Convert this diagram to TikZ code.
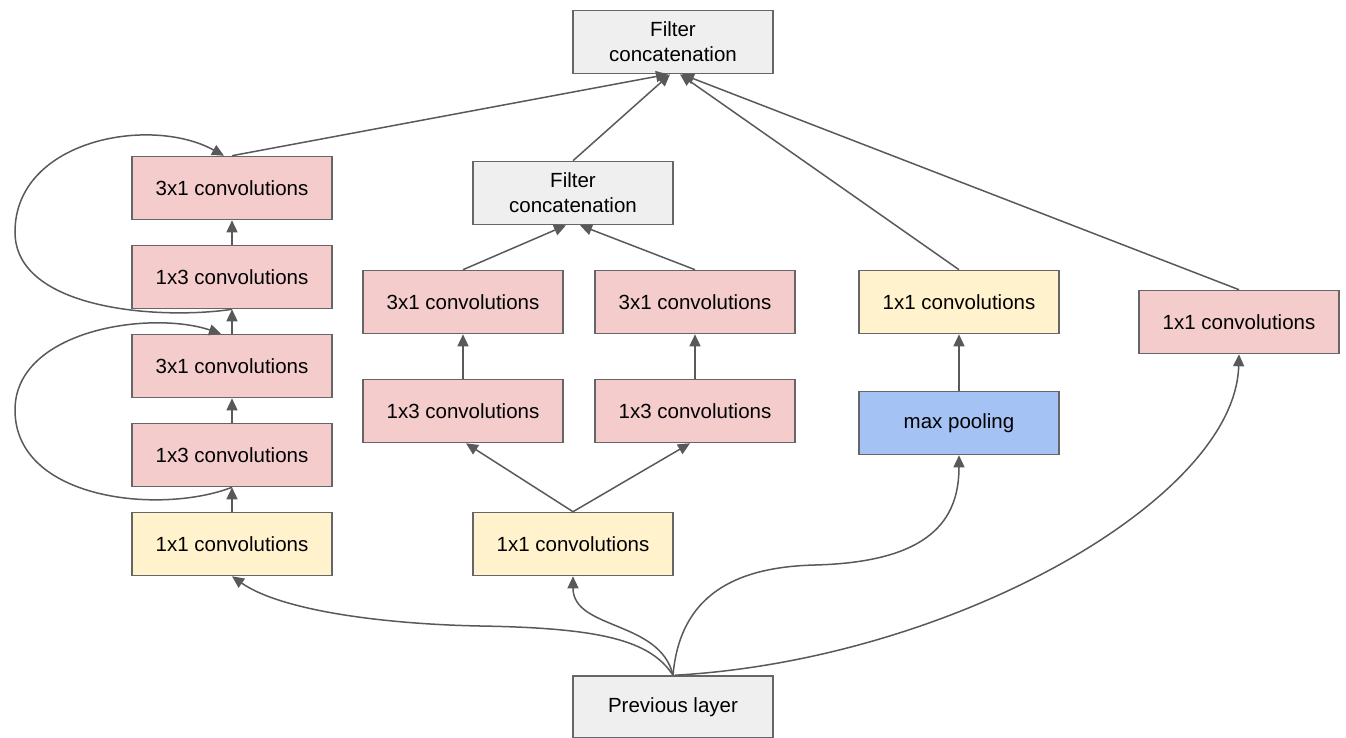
\documentclass[tikz,border=0pt]{standalone}
\usepackage{fontspec}
\setmainfont{Liberation Sans}
\usetikzlibrary{arrows.meta}
\definecolor{pinkfill}{HTML}{F4CCCC}
\definecolor{yellowfill}{HTML}{FFF2CC}
\definecolor{bluefill}{HTML}{A4C2F4}
\definecolor{grayfill}{HTML}{EFEFEF}
\definecolor{edge}{HTML}{666666}
\definecolor{wire}{HTML}{595959}
\tikzset{
  block/.style={draw=edge, line width=1.6pt, minimum width=200pt, minimum height=63pt,
    inner sep=0pt, align=center, font=\fontsize{20.5}{25}\selectfont},
  pinkbox/.style={block, fill=pinkfill},
  yellowbox/.style={block, fill=yellowfill},
  bluebox/.style={block, fill=bluefill},
  graybox/.style={block, fill=grayfill},
  arr/.style={draw=wire, line width=1.5pt, -{Triangle[width=11pt,length=12pt]}},
}
\begin{document}
\begin{tikzpicture}[x=1pt,y=-1pt]
\useasboundingbox (0,0) rectangle (1346,738);

% output concatenation and input layer
\node[graybox] (top)  at (673,42)  {Filter\\concatenation};
\node[graybox, minimum height=62pt] (prev) at (673,707) {Previous layer};

% left branch: stacked asymmetric convolutions
\node[pinkbox]   (l1) at (232,188) {3x1 convolutions};
\node[pinkbox]   (l2) at (232,277) {1x3 convolutions};
\node[pinkbox]   (l3) at (232,366) {3x1 convolutions};
\node[pinkbox]   (l4) at (232,455) {1x3 convolutions};
\node[yellowbox] (l5) at (232,544) {1x1 convolutions};

% middle branch: split into two parallel paths
\node[graybox]   (mcat) at (573,193) {Filter\\concatenation};
\node[pinkbox]   (ma1)  at (463,302) {3x1 convolutions};
\node[pinkbox]   (mb1)  at (695,302) {3x1 convolutions};
\node[pinkbox]   (ma2)  at (463,411) {1x3 convolutions};
\node[pinkbox]   (mb2)  at (695,411) {1x3 convolutions};
\node[yellowbox] (m1)   at (573,544) {1x1 convolutions};

% pooling branch
\node[yellowbox] (p1) at (959,302) {1x1 convolutions};
\node[bluebox]   (p2) at (959,423) {max pooling};

% single 1x1 branch
\node[pinkbox] (r1) at (1239,322) {1x1 convolutions};

% left branch chain
\draw[arr] (l5.north) -- (l4.south);
\draw[arr] (l4.north) -- (l3.south);
\draw[arr] (l3.north) -- (l2.south);
\draw[arr] (l2.north) -- (l1.south);

% skip loops around the left stack
\coordinate (loopa) at (15,232);
\coordinate (loopb) at (15,410);
\draw[arr] (l2.south) .. controls (160,320) and (15,310) .. (loopa)
  .. controls (15,140) and (150,115) .. ([xshift=-8pt]l1.north);
\draw[arr] (l4.south) .. controls (160,515) and (15,500) .. (loopb)
  .. controls (15,330) and (150,310) .. ([xshift=-11pt]l3.north);

% middle branch
\draw[arr] (m1.north) -- ([xshift=3pt]ma2.south);
\draw[arr] (m1.north) -- ([xshift=-5pt]mb2.south);
\draw[arr] (ma2.north) -- (ma1.south);
\draw[arr] (mb2.north) -- (mb1.south);
\draw[arr] (ma1.north) -- ([xshift=-7pt]mcat.south);
\draw[arr] (mb1.north) -- ([xshift=7pt]mcat.south);

% pooling branch
\draw[arr] (p2.north) -- (p1.south);

% into the output concatenation
\draw[arr] (l1.north) -- ([xshift=-5pt]top.south);
\draw[arr] (mcat.north) -- ([xshift=-3pt]top.south);
\draw[arr] (p1.north) -- ([xshift=7pt]top.south);
\draw[arr] (r1.north) -- ([xshift=9pt]top.south);

% from the previous layer
\coordinate (sagl) at (480,626);
\coordinate (sagp) at (815,565);
\draw[arr] (prev.north) .. controls (650,640) and (600,628) .. (sagl)
  .. controls (380,624) and (280,610) .. (l5.south);
\draw[arr] (prev.north) .. controls (660,620) and (573,630) .. (m1.south);
\draw[arr] (prev.north) .. controls (680,595) and (735,567) .. (sagp)
  .. controls (930,562) and (959,520) .. (p2.south);
\draw[arr] ([xshift=2pt]prev.north) .. controls (950,660) and (1235,500) .. (r1.south);
\end{tikzpicture}
\end{document}
